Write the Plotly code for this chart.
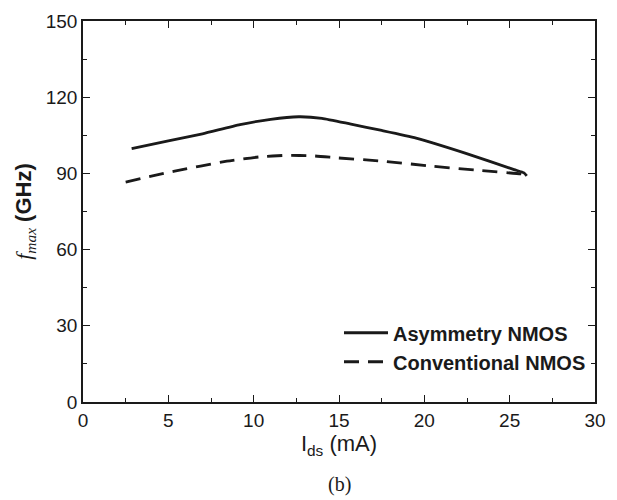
import plotly.graph_objects as go

# f_max versus drain current for the two NMOS layouts
ids_asym = [2.85, 5.0, 7.0, 9.2, 11.0, 12.64, 14.0, 15.7, 17.5, 19.52, 22.39, 25.26, 25.84, 26.0]
fmax_asym = [99.8, 102.8, 105.6, 109.2, 111.3, 112.3, 111.7, 109.4, 106.9, 103.9, 98.0, 91.5, 90.2, 89.0]

ids_conv = [2.5, 5.37, 8.43, 10.35, 11.88, 13.5, 14.93, 17.6, 20.5, 23.35, 25.65, 25.9]
fmax_conv = [86.6, 90.9, 94.8, 96.5, 97.1, 96.9, 96.1, 94.8, 92.8, 91.1, 89.8, 89.4]

x_ticks = [0, 5, 10, 15, 20, 25, 30]
y_ticks = [0, 30, 60, 90, 120, 150]

fig = go.Figure()
fig.add_trace(go.Scatter(
    x=ids_asym, y=fmax_asym, mode="lines", name="Asymmetry NMOS",
    line=dict(color="#1a1a1a", width=2.8, shape="spline", smoothing=0.5), legendgroup="a",
))
fig.add_trace(go.Scatter(
    x=ids_conv, y=fmax_conv, mode="lines", name="Conventional NMOS",
    line=dict(color="#1a1a1a", width=2.8, dash="15px,9px", shape="spline", smoothing=0.5),
    legendgroup="c",
))

axis_common = dict(
    showgrid=False, zeroline=False, showline=True, linecolor="#1a1a1a", linewidth=1.5,
    mirror="ticks", ticks="inside", ticklen=7, tickwidth=1.2, tickcolor="#1a1a1a",
    tickfont=dict(family="Liberation Sans, Arial", size=19, color="#1a1a1a"),
)

fig.update_xaxes(
    range=[0, 30], tickvals=x_ticks, **axis_common, automargin=True,
    minor=dict(dtick=2.5, ticks="inside", ticklen=4, tickwidth=1.2, tickcolor="#1a1a1a"),
    title=dict(text="I<sub>ds</sub> (mA)", standoff=6,
               font=dict(family="Liberation Sans, Arial", size=22, color="#1a1a1a")),
)
fig.update_yaxes(
    range=[0, 150], tickvals=y_ticks, **axis_common,
    minor=dict(dtick=15, ticks="inside", ticklen=4, tickwidth=1.2, tickcolor="#1a1a1a"),
    title=dict(
        text="<span style=\"font-family:'Liberation Serif'\"><i>f</i><sub><i>max</i></sub></span> <b>(GHz)</b>",
        standoff=8,
        font=dict(family="Liberation Sans, Arial", size=22, color="#1a1a1a"),
    ),
)

fig.add_annotation(
    text="(b)", xref="paper", yref="paper", x=0.50, y=-0.217, yanchor="middle",
    showarrow=False,
    font=dict(family="Liberation Serif, Times New Roman", size=20, color="#1a1a1a"),
)

fig.update_layout(
    width=617, height=500,
    margin=dict(l=83, r=11, t=19, b=98),
    plot_bgcolor="white", paper_bgcolor="white",
    legend=dict(
        x=0.5, y=0.233, xanchor="left", yanchor="top",
        bgcolor="rgba(0,0,0,0)", itemwidth=44, tracegroupgap=0,
        font=dict(family="Liberation Sans, Arial", size=20, color="#1a1a1a", weight="bold"),
    ),
)

fig.write_html("out.html")
